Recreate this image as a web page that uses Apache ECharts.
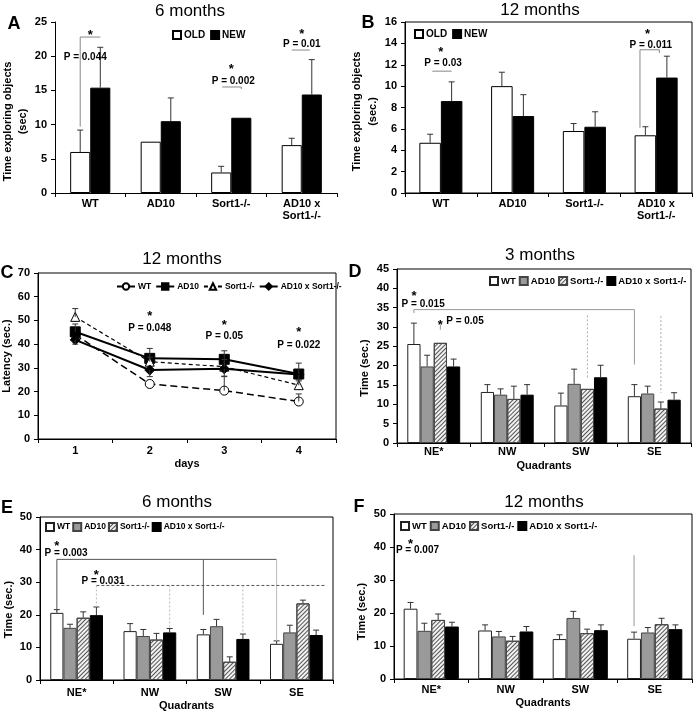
<!DOCTYPE html>
<html>
<head>
<meta charset="utf-8">
<script src="https://cdn.jsdelivr.net/npm/echarts@6/dist/echarts.min.js"></script>
<style>
html, body { margin: 0; background: #fff; }
#main { width: 694px; height: 712px; }
</style>
</head>
<body>
<div id="main"></div>
<script>
var FONT = '"Liberation Sans", Arial, sans-serif';

// A / B: novel object test, time exploring objects
var groups = ['WT', 'AD10', 'Sort1-/-', 'AD10 x\nSort1-/-'];
var aOld = [6, 7.5, 3, 7];
var aNew = [15.4, 10.5, 11, 14.4];
var aOldTop = [9.2, 7.5, 3.9, 8];
var aNewTop = [21.3, 13.9, 11, 19.5];

var bOld = [4.7, 10, 5.8, 5.4];
var bNew = [8.6, 7.2, 6.2, 10.8];
var bOldTop = [5.5, 11.3, 6.5, 6.2];
var bNewTop = [10.4, 9.2, 7.6, 12.8];

// C: latency over days
var days = ['1', '2', '3', '4'];
var cWT = [44, 23.2, 20.4, 15.8];
var cAD10 = [45.2, 34, 33.6, 27.4];
var cSort1 = [51.5, 32.6, 30.5, 22.7];
var cCross = [41.8, 29.1, 29.6, 27.2];
var cWTTop = [44, 23.2, 26.3, 19];
var cAD10Top = [48.5, 38.2, 37.2, 32];
var cSort1Top = [55, 34.5, 33.5, 25];
var cCrossTop = [40, 26.3, 26.5, 24.5];

// D / E / F: time in quadrants
var quads = ['NE*', 'NW', 'SW', 'SE'];
var genos = ['WT', 'AD10', 'Sort1-/-', 'AD10 x Sort1-/-'];

var dWT = [25.6, 13.2, 9.7, 12.1],   dWTTop = [31, 15.1, 12.9, 15.1];
var dAD10 = [19.8, 12.5, 15.3, 12.8], dAD10Top = [22.7, 14, 19.1, 14.7];
var dSort1 = [25.9, 11.4, 14, 8.9],  dSort1Top = [25.9, 14.7, 14, 10.6];
var dCross = [19.8, 12.5, 17, 11.2], dCrossTop = [21.7, 15.1, 20.1, 13];

var eWT = [20.6, 15, 14, 11.1],      eWTTop = [21.6, 17.3, 15.5, 12];
var eAD10 = [16, 13.5, 16.5, 14.6],  eAD10Top = [17.1, 15.5, 18.6, 16.8];
var eSort1 = [19.1, 12.4, 5.6, 23.5], eSort1Top = [20.9, 14.3, 7.1, 24.5];
var eCross = [19.9, 14.6, 12.6, 13.8], eCrossTop = [22.4, 15.8, 14.1, 15.3];

var fWT = [21.3, 14.7, 12.1, 12.2],  fWTTop = [23.2, 16.4, 13.4, 14.2];
var fAD10 = [14.6, 12.9, 18.5, 14.1], fAD10Top = [16.9, 14.4, 20.5, 15.6];
var fSort1 = [17.9, 11.6, 13.9, 16.6], fSort1Top = [19.7, 12.9, 15.1, 18.4];
var fCross = [15.9, 14.4, 14.8, 15.1], fCrossTop = [17.2, 15.9, 16.4, 16.4];

// significance marks: [category, bar slot, y]
var annA = [
    {line: [[0, 0, 9.7], [0, 0, 22.8], [0, 1, 22.8]], color: '#888'},
    {text: '*', at: [0, 0.5, 23.1]},
    {text: 'P = 0.044', at: [0, 0.25, 19.9]},
    {text: '*', at: [2, 0.5, 18]},
    {text: 'P = 0.002', at: [2, 0.6, 16.4]},
    {line: [[2, 0.05, 15.5], [2, 1, 15.5], [2, 1, 15.2]], color: '#888'},
    {text: '*', at: [3, 0.5, 23.2]},
    {text: 'P = 0.01', at: [3, 0.5, 21.8]},
    {line: [[3, 0, 20.9], [3, 0.9, 20.9]], color: '#888'}
];
var annB = [
    {text: '*', at: [0, 0.5, 13.2]},
    {text: 'P = 0.03', at: [0, 0.6, 12.1]},
    {line: [[0, 0.1, 11.4], [0, 1, 11.4]], color: '#888'},
    {text: '*', at: [3, 0.1, 14.8]},
    {text: 'P = 0.011', at: [3, 0.25, 13.8]},
    {line: [[3, -0.25, 6.1], [3, -0.25, 13.4], [3, 0.65, 13.4], [3, 0.65, 13.1]], color: '#888'}
];
var annC = [
    {text: '*', at: [1, 0, 51.9]},
    {text: 'P = 0.048', at: [1, 0, 46.8]},
    {text: '*', at: [2, 0, 47.7]},
    {text: 'P = 0.05', at: [2, 0, 43.4]},
    {text: '*', at: [3, 0, 45.1]},
    {text: 'P = 0.022', at: [3, 0, 39.6]}
];
var annD = [
    {text: '*', at: [0, 0, 37.8]},
    {text: 'P = 0.015', at: [0, 0.7, 35.9]},
    {line: [[0, 0, 33.6], [0, 0, 34.5], [3, 0, 34.5], [3, 0, 20.3]], color: '#999'},
    {text: '*', at: [0, 2, 30.5]},
    {line: [[0, 2, 30.6], [0, 2, 29.3]], color: '#999'},
    {text: 'P = 0.05', at: [0, 3.86, 31.5]},
    {line: [[2, 2, 33], [2, 2, 16.5]], color: '#aaa', dash: [2, 2]},
    {line: [[3, 2, 32.8], [3, 2, 12.9]], color: '#aaa', dash: [2, 2]}
];
var annE = [
    {text: '*', at: [0, 0, 41.1]},
    {text: 'P = 0.003', at: [0, 0.7, 39]},
    {line: [[0, 0, 21], [0, 0, 37], [3, 0, 37]], color: '#555'},
    {line: [[3, 0, 37], [3, 0, 12]], color: '#bbb'},
    {line: [[2, 0, 37], [2, 0, 20]], color: '#555'},
    {text: '*', at: [0, 3, 32.2]},
    {text: 'P = 0.031', at: [0, 3.5, 30.4]},
    {line: [[0, 3, 29], [3, 3.7, 29]], color: '#555', dash: [3, 2]},
    {line: [[0, 3, 29], [0, 3, 22.4]], color: '#bbb', dash: [2, 2]},
    {line: [[1, 3, 29], [1, 3, 15.8]], color: '#bbb', dash: [2, 2]},
    {line: [[2, 3, 29], [2, 3, 14.1]], color: '#bbb', dash: [2, 2]}
];
var annF = [
    {text: '*', at: [0, 0, 40.9]},
    {text: 'P = 0.007', at: [0, 0.5, 39.1]},
    {line: [[3, 0, 37.5], [3, 0, 16]], color: '#999'}
];

var chart = echarts.init(document.getElementById('main'));

var lbl = {color: '#000', fontSize: 11, fontWeight: 'bold', fontFamily: FONT};

function barCenter(api, cat, slot, n, gap) {
    var c = api.coord([cat, 0])[0];
    var band = api.size([1, 0])[0];
    var w = band * (1 - gap) / n;
    return c - band * (1 - gap) / 2 + w * (slot + 0.5);
}

function catAxis(gi, cats, name, margin, nameGap) {
    return {
        type: 'category', gridIndex: gi, data: cats, boundaryGap: true,
        axisLine: {lineStyle: {color: '#000', width: 1}},
        axisTick: {show: true, length: 4, lineStyle: {color: '#000'}},
        axisLabel: Object.assign({margin: margin, interval: 0, lineHeight: 12}, lbl),
        name: name, nameLocation: 'middle', nameGap: nameGap,
        nameTextStyle: Object.assign({}, lbl)
    };
}

function valAxis(gi, max, step, name, nameGap, shift, lh) {
    return {
        type: 'value', gridIndex: gi, min: 0, max: max, interval: step,
        axisLine: {show: true, lineStyle: {color: '#000'}},
        axisTick: {show: true, length: 4, lineStyle: {color: '#000'}},
        splitLine: {show: false},
        axisLabel: Object.assign({margin: 8}, lbl),
        name: name, nameLocation: 'middle', nameRotate: 90, nameGap: nameGap,
        nameTextStyle: Object.assign({lineHeight: lh || 14, padding: [0, 2 * shift, 0, 0]}, lbl)
    };
}

var grids = [
    {left: 55, top: 22, width: 282, height: 171},
    {left: 405, top: 22, width: 287, height: 171},
    {left: 38, top: 273, width: 298, height: 166},
    {left: 397, top: 269, width: 294, height: 174},
    {left: 40, top: 517, width: 293, height: 163},
    {left: 394, top: 514, width: 298, height: 165}
];
grids.forEach(function (g, i) {
    g.outerBoundsMode = 'none';
    g.containLabel = false;
    if (i > 0) {
        g.show = true;
        g.borderColor = '#000';
        g.borderWidth = 1;
    }
});

var xAxes = [
    catAxis(0, groups, '', 5, 20),
    catAxis(1, groups, '', 5, 20),
    catAxis(2, days, 'days', 6, 19),
    catAxis(3, quads, 'Quadrants', 3, 17),
    catAxis(4, quads, 'Quadrants', 7, 20),
    catAxis(5, quads, 'Quadrants', 5, 18)
];
var yAxes = [
    valAxis(0, 25, 5, 'Time exploring objects\n(sec)', 24, 14, 15),
    valAxis(1, 16, 2, 'Time exploring objects\n(sec.)', 19, 4, 16),
    valAxis(2, 70, 10, 'Latency (sec.)', 23, 0),
    valAxis(3, 45, 5, 'Time (sec.)', 25, 12),
    valAxis(4, 50, 10, 'Time (sec.)', 23, 11),
    valAxis(5, 50, 10, 'Time (sec.)', 25, 15)
];

var stOld = {color: '#fff', borderColor: '#000', borderWidth: 1};
var stNew = {color: '#000', borderColor: '#000', borderWidth: 1};
var stWT = {color: '#fff', borderColor: '#222', borderWidth: 1};
var stAD = {color: '#9a9a9a', borderColor: '#444', borderWidth: 1};
var stS1 = {
    color: '#f2f2f2', borderColor: '#444', borderWidth: 1,
    decal: {symbol: 'rect', symbolSize: 1, dashArrayX: [1, 0], dashArrayY: [1, 2],
            rotation: -Math.PI / 4, color: '#555'}
};
var stX = {color: '#000', borderColor: '#000', borderWidth: 1};

var series = [];

function addBars(prefix, gi, names, vals, styles, gap) {
    names.forEach(function (nm, k) {
        series.push({
            type: 'bar', name: prefix + ':' + nm, xAxisIndex: gi, yAxisIndex: gi,
            data: vals[k], barGap: '0%', barCategoryGap: Math.round(gap * 100) + '%',
            itemStyle: styles[k], emphasis: {disabled: true}
        });
    });
}

function addErrors(gi, vals, tops, n, gap) {
    var data = [];
    vals.forEach(function (v, k) {
        v.forEach(function (y, i) {
            data.push([i, n === 1 ? 0 : k, y, tops[k][i]]);
        });
    });
    series.push({
        type: 'custom', xAxisIndex: gi, yAxisIndex: gi, data: data, z: 5,
        encode: {x: 0, y: 3}, silent: true,
        renderItem: function (params, api) {
            var cat = api.value(0);
            var x = barCenter(api, cat, api.value(1), n, gap);
            var y0 = api.coord([cat, api.value(2)])[1];
            var y1 = api.coord([cat, api.value(3)])[1];
            if (Math.abs(y1 - y0) < 0.5) return null;
            return {type: 'group', children: [
                {type: 'line', shape: {x1: x, y1: y0, x2: x, y2: y1}, style: {stroke: '#333', lineWidth: 1}},
                {type: 'line', shape: {x1: x - 3, y1: y1, x2: x + 3, y2: y1}, style: {stroke: '#333', lineWidth: 1}}
            ]};
        }
    });
}

function addMarks(gi, list, n, gap) {
    series.push({
        type: 'custom', xAxisIndex: gi, yAxisIndex: gi, data: [[0, 0]], z: 6,
        silent: true,
        renderItem: function (params, api) {
            var kids = [];
            list.forEach(function (a) {
                if (a.line) {
                    var pts = a.line.map(function (p) {
                        return [barCenter(api, p[0], p[1], n, gap), api.coord([p[0], p[2]])[1]];
                    });
                    kids.push({type: 'polyline', shape: {points: pts},
                        style: {stroke: a.color, lineWidth: 1, lineDash: a.dash || null, fill: null}});
                } else {
                    var p = a.at;
                    var star = a.text === '*';
                    kids.push({type: 'text',
                        x: barCenter(api, p[0], p[1], n, gap),
                        y: api.coord([p[0], p[2]])[1],
                        style: {text: a.text, fill: '#000',
                            font: 'bold ' + (star ? 13 : 10) + 'px ' + FONT,
                            align: 'center', verticalAlign: 'middle',
                            textAlign: 'center', textVerticalAlign: 'middle'}});
                }
            });
            return {type: 'group', children: kids};
        }
    });
}

// A
addBars('A', 0, ['OLD', 'NEW'], [aOld, aNew], [stOld, stNew], 0.43);
addErrors(0, [aOld, aNew], [aOldTop, aNewTop], 2, 0.43);
addMarks(0, annA, 2, 0.43);
// B
addBars('B', 1, ['OLD', 'NEW'], [bOld, bNew], [stOld, stNew], 0.40);
addErrors(1, [bOld, bNew], [bOldTop, bNewTop], 2, 0.40);
addMarks(1, annB, 2, 0.40);

// C lines
var cLines = [
    {nm: 'WT', d: cWT, sym: 'circle', size: 9, fill: '#fff', type: [7, 4], w: 1.5},
    {nm: 'AD10', d: cAD10, sym: 'rect', size: 10, fill: '#000', type: 'solid', w: 2},
    {nm: 'Sort1-/-', d: cSort1, sym: 'triangle', size: 9, fill: '#fff', type: [4, 3], w: 1.2},
    {nm: 'AD10 x Sort1-/-', d: cCross, sym: 'diamond', size: 10, fill: '#000', type: 'solid', w: 2}
];
cLines.forEach(function (l) {
    series.push({
        type: 'line', name: 'C:' + l.nm, xAxisIndex: 2, yAxisIndex: 2, data: l.d,
        symbol: l.sym, symbolSize: l.size, showAllSymbol: true, z: 4,
        lineStyle: {color: '#000', width: l.w, type: l.type},
        itemStyle: {color: l.fill, borderColor: '#000', borderWidth: 1},
        emphasis: {disabled: true}
    });
});
addErrors(2, [cWT, cAD10, cSort1, cCross], [cWTTop, cAD10Top, cSort1Top, cCrossTop], 1, 0);
addMarks(2, annC, 1, 0);

// D, E, F
var quadStyles = [stWT, stAD, stS1, stX];
addBars('D', 3, genos, [dWT, dAD10, dSort1, dCross], quadStyles, 0.28);
addErrors(3, [dWT, dAD10, dSort1, dCross], [dWTTop, dAD10Top, dSort1Top, dCrossTop], 4, 0.28);
addMarks(3, annD, 4, 0.28);
addBars('E', 4, genos, [eWT, eAD10, eSort1, eCross], quadStyles, 0.28);
addErrors(4, [eWT, eAD10, eSort1, eCross], [eWTTop, eAD10Top, eSort1Top, eCrossTop], 4, 0.28);
addMarks(4, annE, 4, 0.28);
addBars('F', 5, genos, [fWT, fAD10, fSort1, fCross], quadStyles, 0.26);
addErrors(5, [fWT, fAD10, fSort1, fCross], [fWTTop, fAD10Top, fSort1Top, fCrossTop], 4, 0.26);
addMarks(5, annF, 4, 0.26);

function legendAt(prefix, names, left, top, fs, gap, iw) {
    var lg = {
        data: names.map(function (n) { return prefix + ':' + n; }),
        left: left, top: top, width: 320, orient: 'horizontal', selectedMode: false,
        itemWidth: iw || 8, itemHeight: 8, itemGap: gap, padding: 0,
        formatter: function (n) { return n.split(':')[1]; },
        textStyle: {color: '#000', fontSize: fs, fontWeight: 'bold', fontFamily: FONT, padding: [0, 0, 0, -2]}
    };
    if (!iw) lg.icon = 'rect';
    return lg;
}

var legends = [
    legendAt('A', ['OLD', 'NEW'], 172, 30, 10, 5),
    legendAt('B', ['OLD', 'NEW'], 414, 29, 10, 5),
    legendAt('C', genos, 116, 282, 8.5, 4, 18),
    legendAt('D', genos, 489, 276, 9.5, 3),
    legendAt('E', genos, 45, 522, 8.5, 2),
    legendAt('F', genos, 400, 521, 9.5, 3)
];

function heading(text, x, y) {
    return {type: 'text', x: x, y: y, silent: true,
        style: {text: text, fill: '#000', font: '17px ' + FONT,
            textAlign: 'center', textVerticalAlign: 'middle'}};
}
function letter(text, x, y) {
    return {type: 'text', x: x, y: y, silent: true,
        style: {text: text, fill: '#000', font: 'bold 18px ' + FONT,
            textAlign: 'center', textVerticalAlign: 'middle'}};
}

chart.setOption({
    animation: false,
    backgroundColor: '#fff',
    grid: grids,
    xAxis: xAxes,
    yAxis: yAxes,
    legend: legends,
    series: series,
    graphic: [
        heading('6 months', 190, 11),
        heading('12 months', 540, 10),
        heading('12 months', 182, 259),
        heading('3 months', 540, 255),
        heading('6 months', 177, 502),
        heading('12 months', 544, 502),
        letter('A', 14, 24),
        letter('B', 368, 23),
        letter('C', 7, 273),
        letter('D', 355, 272),
        letter('E', 7, 508),
        letter('F', 359, 507)
    ]
});
</script>
</body>
</html>
